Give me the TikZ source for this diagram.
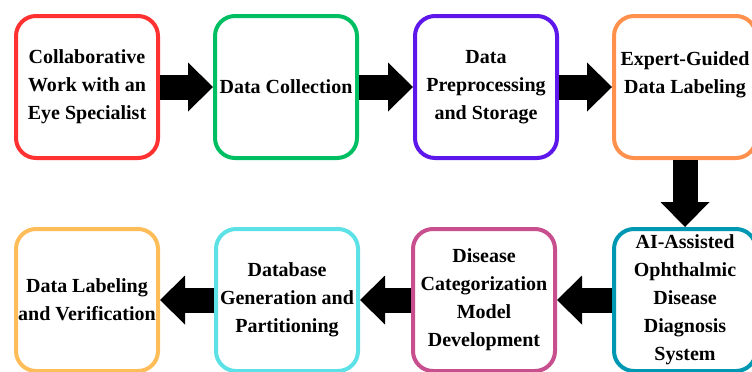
\documentclass[tikz,border=0pt]{standalone}
\usepackage{fontspec}
\setmainfont{Liberation Serif}
\usetikzlibrary{arrows.meta}
\definecolor{redline}{HTML}{FF3131}
\definecolor{greenline}{HTML}{00BF63}
\definecolor{purpleline}{HTML}{5E17EB}
\definecolor{orangeline}{HTML}{FF914D}
\definecolor{tealline}{HTML}{0097B2}
\definecolor{pinkline}{HTML}{C74F8E}
\definecolor{cyanline}{HTML}{5CE1E6}
\definecolor{yellowline}{HTML}{FFBD59}

\begin{document}
\begin{tikzpicture}[x=0.75pt, y=-0.75pt,
	stagebox/.style={draw, line width=3pt, rounded corners=15pt, fill=white,
		minimum width=106.5pt, minimum height=106.5pt, inner sep=0pt,
		align=center, font=\bfseries\fontsize{15}{21}\selectfont},
	blockarrow/.style={line width=18.75pt,
		-{Triangle[length=18.75pt, width=36.75pt, line width=0pt]}}]
			%%%%% START %%%%%
			
			\useasboundingbox (0, 0) rectangle (752, 371);
			
			% top row
			\node[stagebox, draw=redline] (collab) at (87, 87) {Collaborative\\Work with an\\Eye Specialist};
			\node[stagebox, draw=greenline] (collect) at (286, 87) {Data Collection};
			\node[stagebox, draw=purpleline] (prep) at (486, 87) {Data\\Preprocessing\\and Storage};
			\node[stagebox, draw=orangeline] (label) at (685, 87) {Expert-Guided\\Data Labeling\\\mbox{}};
			
			% bottom row
			\node[stagebox, draw=tealline] (diag) at (685, 300) {AI-Assisted\\Ophthalmic\\Disease\\Diagnosis\\System};
			\node[stagebox, draw=pinkline] (model) at (484, 300) {Disease\\Categorization\\Model\\Development};
			\node[stagebox, draw=cyanline] (base) at (287, 300) {Database\\Generation and\\Partitioning};
			\node[stagebox, draw=yellowline] (verify) at (87, 300) {Data Labeling\\and Verification};
			
			% arrows
			\draw[blockarrow] (collab.east) -- (collect.west);
			\draw[blockarrow] (collect.east) -- (prep.west);
			\draw[blockarrow] (prep.east) -- (label.west);
			\draw[blockarrow] (label.south) -- (diag.north);
			\draw[blockarrow] (diag.west) -- (model.east);
			\draw[blockarrow] (model.west) -- (base.east);
			\draw[blockarrow] (base.west) -- (verify.east);
			
			%%%%% END %%%%%
\end{tikzpicture}
\end{document}
